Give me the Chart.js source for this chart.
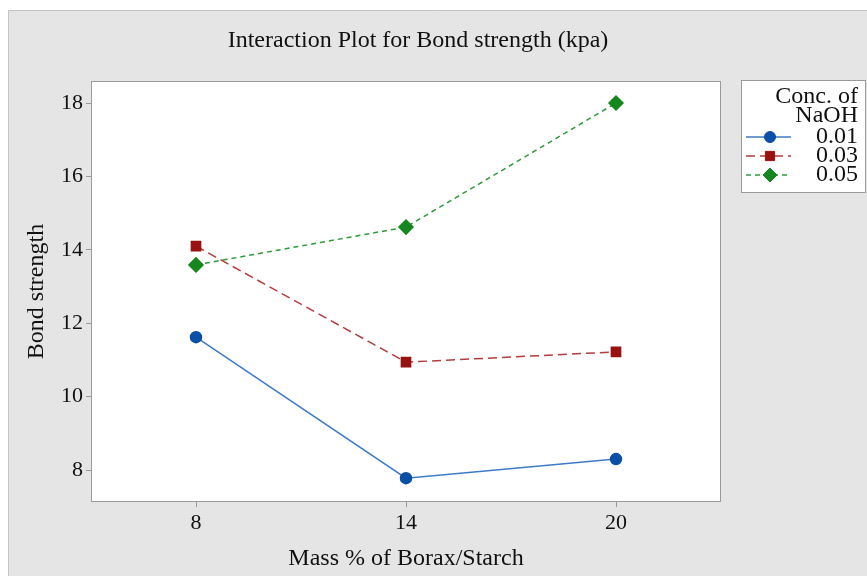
<!DOCTYPE html>
<html>
<head>
<meta charset="utf-8">
<script src="https://cdn.jsdelivr.net/npm/chart.js@4/dist/chart.umd.min.js"></script>
<style>
  html, body { margin: 0; padding: 0; background: #fff; }
  #wrap { width: 867px; height: 576px; }
</style>
</head>
<body>
<div id="wrap"><canvas id="graph" width="867" height="576"></canvas></div>
<script>
const massLabels = ["8", "14", "20"];
const conc001 = [11.62, 7.78, 8.30];
const conc003 = [14.10, 10.94, 11.22];
const conc005 = [13.59, 14.62, 18.00];
const yTicks = [8, 10, 12, 14, 16, 18];
const chartTitle = "Interaction Plot for Bond strength (kpa)";
const legendTitle = ["Conc. of", "NaOH"];

const serif = "'Liberation Serif', 'DejaVu Serif', serif";

// gray panel behind everything, white plot area, title on top
const panelBg = {
    id: "panelBg",
    beforeDraw(chart) {
        const ctx = chart.ctx;
        ctx.save();
        ctx.fillStyle = "#ffffff";
        ctx.fillRect(0, 0, chart.width, chart.height);
        ctx.fillStyle = "#e5e5e5";
        ctx.fillRect(8, 10, chart.width - 8, chart.height - 10);
        ctx.strokeStyle = "#c4c4c4";
        ctx.lineWidth = 1;
        ctx.beginPath();
        ctx.moveTo(8.5, chart.height);
        ctx.lineTo(8.5, 10.5);
        ctx.lineTo(chart.width, 10.5);
        ctx.stroke();
        const a = chart.chartArea;
        ctx.fillStyle = "#ffffff";
        ctx.fillRect(a.left, a.top, a.right - a.left, a.bottom - a.top);
        ctx.font = "24px " + serif;
        ctx.fillStyle = "#111";
        ctx.textAlign = "center";
        ctx.textBaseline = "middle";
        ctx.fillText(chartTitle, 418, 41);
        ctx.restore();
    },
    afterDatasetsDraw(chart) {
        const ctx = chart.ctx;
        const a = chart.chartArea;
        ctx.save();
        ctx.strokeStyle = "#9a9a9a";
        ctx.lineWidth = 1;
        ctx.strokeRect(a.left + 0.5, a.top + 0.5, a.right - a.left - 1, a.bottom - a.top - 1);
        ctx.restore();
    }
};

function drawMarker(ctx, ds, x, y) {
    ctx.fillStyle = ds.pointBackgroundColor;
    ctx.strokeStyle = ds.pointBorderColor;
    ctx.lineWidth = 1;
    Chart.helpers.drawPoint(ctx, { pointStyle: ds.pointStyle, radius: ds.pointRadius, borderWidth: 1, rotation: 0 }, x, y);
}

// legend box on the right, built from the dataset styles
const sideLegend = {
    id: "sideLegend",
    afterDraw(chart) {
        const ctx = chart.ctx;
        const x0 = 741, y0 = 80, w = 125, h = 113;
        ctx.save();
        ctx.fillStyle = "#ffffff";
        ctx.fillRect(x0, y0, w, h);
        ctx.strokeStyle = "#9a9a9a";
        ctx.lineWidth = 1;
        ctx.strokeRect(x0 + 0.5, y0 + 0.5, w - 1, h - 1);
        ctx.font = "24px " + serif;
        ctx.textAlign = "right";
        ctx.textBaseline = "middle";
        ctx.fillStyle = "#111";
        ctx.fillText(legendTitle[0], 858, 97);
        ctx.fillText(legendTitle[1], 858, 116);
        chart.data.datasets.forEach((ds, i) => {
            const y = 137 + i * 19;
            ctx.fillStyle = "#111";
            ctx.fillText(ds.label, 858, y);
            ctx.strokeStyle = ds.borderColor;
            ctx.lineWidth = ds.borderWidth;
            ctx.setLineDash(ds.borderDash || []);
            ctx.beginPath();
            ctx.moveTo(746, y);
            ctx.lineTo(791, y);
            ctx.stroke();
            ctx.setLineDash([]);
            drawMarker(ctx, ds, 770, y);
        });
        ctx.restore();
    }
};

const ctx = document.querySelector("#graph").getContext("2d");

const options = {
    type: "line",
    data: {
        labels: massLabels,
        datasets: [
            {
                label: "0.01",
                data: conc001,
                borderColor: "#3f7ac6",
                borderWidth: 1.5,
                pointStyle: "circle",
                pointRadius: 5.5,
                pointBackgroundColor: "#0b4fa6",
                pointBorderColor: "#0b4fa6"
            },
            {
                label: "0.03",
                data: conc003,
                borderColor: "#b23c3c",
                borderWidth: 1.5,
                borderDash: [9, 5],
                pointStyle: "rect",
                pointRadius: 6.5,
                pointBackgroundColor: "#981212",
                pointBorderColor: "#981212"
            },
            {
                label: "0.05",
                data: conc005,
                borderColor: "#2f9a3a",
                borderWidth: 1.5,
                borderDash: [5, 4],
                pointStyle: "rectRot",
                pointRadius: 7,
                pointBackgroundColor: "#14871e",
                pointBorderColor: "#14871e"
            }
        ]
    },
    options: {
        responsive: false,
        animation: false,
        layout: { padding: { left: 0, right: 146, top: 81, bottom: 0 } },
        plugins: {
            legend: { display: false },
            tooltip: { enabled: false },
            title: { display: false }
        },
        scales: {
            x: {
                type: "category",
                offset: true,
                grid: { display: true, drawOnChartArea: false, drawTicks: true, tickLength: 5, color: "#9a9a9a" },
                border: { display: false },
                ticks: { color: "#111", padding: 3, font: { family: serif, size: 22 } },
                title: {
                    display: true,
                    text: "Mass % of Borax/Starch",
                    color: "#111",
                    font: { family: serif, size: 24 },
                    padding: { top: 0, bottom: 3 }
                },
                afterFit(scale) { scale.height = 74; }
            },
            y: {
                min: 7.13,
                max: 18.6,
                grid: { display: true, drawOnChartArea: false, drawTicks: true, tickLength: 5, color: "#9a9a9a" },
                border: { display: false },
                afterBuildTicks(scale) { scale.ticks = yTicks.map(v => ({ value: v })); },
                ticks: { color: "#111", padding: 3, font: { family: serif, size: 22 } },
                title: {
                    display: true,
                    text: "Bond strength",
                    color: "#111",
                    font: { family: serif, size: 24 },
                    padding: { top: 22, bottom: 0 }
                },
                afterFit(scale) { scale.width = 91; }
            }
        }
    },
    plugins: [panelBg, sideLegend]
};

// eslint-disable-next-line no-unused-vars
let chart = new Chart(ctx, options);
</script>
</body>
</html>
